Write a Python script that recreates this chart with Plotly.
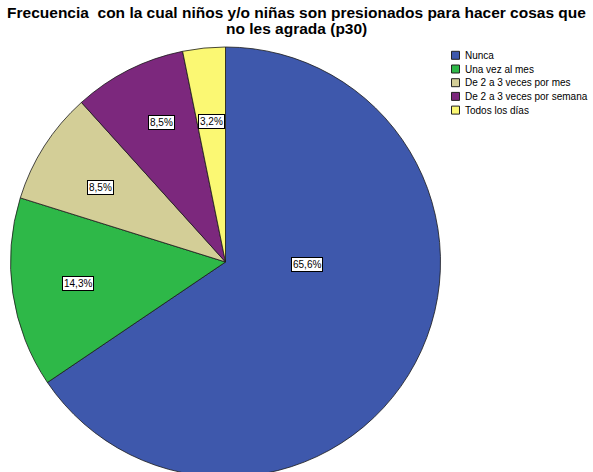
import math
import plotly.graph_objects as go

categories = ["Nunca", "Una vez al mes", "De 2 a 3 veces por mes",
              "De 2 a 3 veces por semana", "Todos los días"]
values = [65.6, 14.3, 8.5, 8.5, 3.2]
value_labels = ["65,6%", "14,3%", "8,5%", "8,5%", "3,2%"]
colors = ["#3E58AC", "#2EB848", "#D3CE97", "#7C287D", "#FBF873"]

title_line1 = "Frecuencia  con la cual niños y/o niñas son presionados para hacer cosas que"
title_line2 = "no les agrada (p30)"

FONT = "Liberation Sans, Arial, sans-serif"
W, H = 593, 480
cx, cy, R = 225.5, 262.0, 215.0  # pixel geometry of the pie

# label placement styling (radial fraction, angle shift in degrees)
label_rfrac = [0.379, 0.694, 0.676, 0.713, 0.659]
label_shift = [-26.3, 0.0, -2.0, 2.3, 0.0]


def px2x(px):
    return px / W


def py2y(py):
    return 1 - py / H


fig = go.Figure(go.Pie(
    labels=categories, values=values, sort=False, direction="clockwise",
    rotation=0, marker=dict(colors=colors, line=dict(color="#1a1a1a", width=0.8)),
    textinfo="none", hoverinfo="label+percent", showlegend=False,
    domain=dict(x=[(cx - R) / W, (cx + R) / W], y=[(H - cy - R) / H, (H - cy + R) / H]),
))

# value labels in white boxes
total = sum(values)
cum = 0.0
for v, lab, rf, sh in zip(values, value_labels, label_rfrac, label_shift):
    mid = (cum + v / 2) / total * 360.0 + sh
    cum += v
    a = math.radians(mid)
    px = cx + rf * R * math.sin(a)
    py = cy - rf * R * math.cos(a)
    fig.add_annotation(x=px2x(px), y=py2y(py), xref="paper", yref="paper",
                       text=lab, showarrow=False, bgcolor="white",
                       bordercolor="black", borderwidth=1, borderpad=1,
                       xanchor="center", yanchor="middle",
                       font=dict(family=FONT, size=10, color="black"))

# legend (compact, SPSS style)
leg_x0, leg_y0, leg_dy, box = 451.5, 55.3, 13.7, 8.0
for i, (cat, col) in enumerate(zip(categories, colors)):
    yc = leg_y0 + i * leg_dy
    fig.add_shape(type="rect", xref="paper", yref="paper",
                  x0=px2x(leg_x0), x1=px2x(leg_x0 + box),
                  y0=py2y(yc + box / 2), y1=py2y(yc - box / 2),
                  fillcolor=col, line=dict(color="#222222", width=1))
    fig.add_annotation(x=px2x(leg_x0 + box + 3), y=py2y(yc), xref="paper", yref="paper",
                       text=cat, showarrow=False, xanchor="left", yanchor="middle",
                       font=dict(family=FONT, size=10, color="black"))

# second title line
fig.add_annotation(x=0.5, y=py2y(17.5), xref="paper", yref="paper",
                   text="<b>" + title_line2 + "</b>", showarrow=False,
                   xanchor="center", yanchor="top",
                   font=dict(family=FONT, size=15.5, color="black"))

fig.update_layout(
    width=W, height=H, margin=dict(l=0, r=0, t=0, b=0, autoexpand=False),
    paper_bgcolor="white", plot_bgcolor="white",
    title=dict(text="<b>" + title_line1 + "</b>", x=0.5, xanchor="center",
               xref="paper", yref="container", y=1 - 7.0 / H, yanchor="top",
               pad=dict(t=0, b=0, l=0, r=0),
               font=dict(family=FONT, size=15.5, color="black")),
    showlegend=False,
)

fig.write_html("out.html", config={"displayModeBar": False},
               post_script="document.body.style.margin='0';")
